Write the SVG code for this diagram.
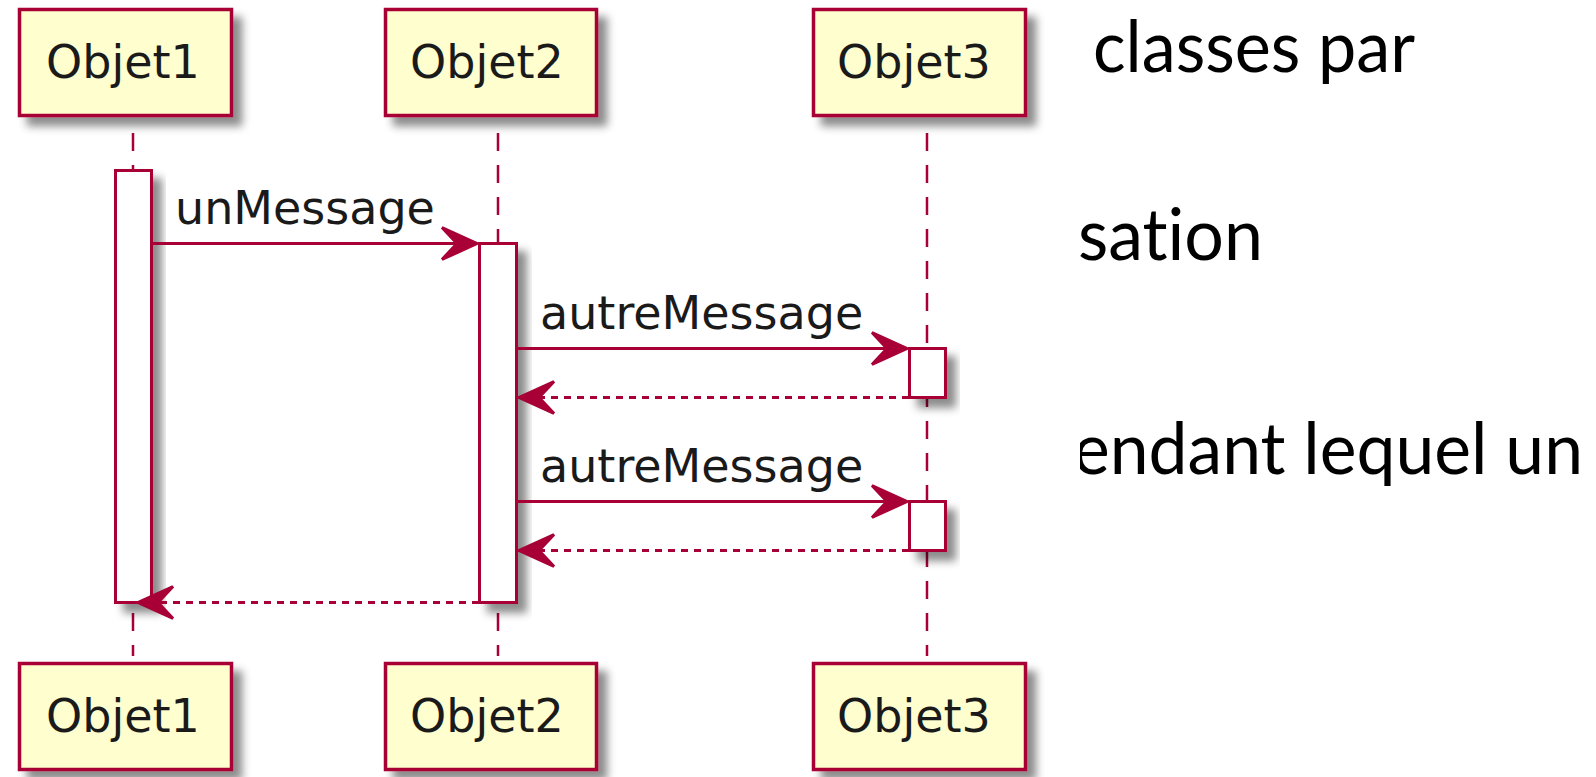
<svg xmlns="http://www.w3.org/2000/svg" width="1596" height="777" viewBox="0 0 1596 777">
  <defs>
    <style>
      .participant rect { fill: #FEFECE; stroke: #A80036; stroke-width: 3.5; filter: url(#shadow); }
      .participant text { font-family: "DejaVu Sans", Verdana, sans-serif; font-size: 46px; fill: #1a1a1a; }
      .lifeline { stroke: #A80036; stroke-width: 2.5; stroke-dasharray: 18 14; fill: none; }
      .activation { fill: #FFFFFF; stroke: #A80036; stroke-width: 3; filter: url(#shadow); }
      .msg { stroke: #A80036; stroke-width: 3; fill: none; marker-end: url(#arrow); }
      .reply { stroke-dasharray: 7 6; }
      .label { font-family: "DejaVu Sans", Verdana, sans-serif; font-size: 46px; fill: #1a1a1a; }
      .slide { font-family: Lato, "Open Sans", sans-serif; font-size: 71px; fill: #000; font-variant-ligatures: none; font-feature-settings: "liga" 0, "clig" 0; }
    </style>
    <filter id="shadow" x="-20%" y="-20%" width="160%" height="160%">
      <feDropShadow dx="9" dy="9" stdDeviation="4" flood-color="#000" flood-opacity="0.45"/>
    </filter>
    <marker id="arrow" markerUnits="userSpaceOnUse" markerWidth="44" markerHeight="38" refX="35" refY="16" orient="auto" overflow="visible">
      <path d="M0,0 L35,16 L0,32 L15,16 Z" fill="#A80036" stroke="#A80036" stroke-width="3" stroke-dasharray="none" stroke-linejoin="miter"/>
    </marker>
    <clipPath id="slideClip">
      <rect x="1080" y="0" width="516" height="777"/>
    </clipPath>
  </defs>

  <rect width="1596" height="777" fill="#FFFFFF"/>

  <!-- lifelines -->
  <g id="lifelines">
    <line class="lifeline" x1="133" y1="133" x2="133" y2="656"/>
    <line class="lifeline" x1="498" y1="133" x2="498" y2="656"/>
    <line class="lifeline" x1="927" y1="133" x2="927" y2="656"/>
  </g>

  <!-- participants (top) -->
  <g id="objet1-top" class="participant">
    <rect x="19.5" y="9.5" width="212" height="106"/>
    <text x="46" y="78">Objet1</text>
  </g>
  <g id="objet2-top" class="participant">
    <rect x="385.5" y="9.5" width="211" height="106"/>
    <text x="410" y="78">Objet2</text>
  </g>
  <g id="objet3-top" class="participant">
    <rect x="813.5" y="9.5" width="212" height="106"/>
    <text x="837" y="78">Objet3</text>
  </g>

  <!-- participants (bottom) -->
  <g id="objet1-bottom" class="participant">
    <rect x="19.5" y="663.5" width="212" height="106"/>
    <text x="46" y="732">Objet1</text>
  </g>
  <g id="objet2-bottom" class="participant">
    <rect x="385.5" y="663.5" width="211" height="106"/>
    <text x="410" y="732">Objet2</text>
  </g>
  <g id="objet3-bottom" class="participant">
    <rect x="813.5" y="663.5" width="212" height="106"/>
    <text x="837" y="732">Objet3</text>
  </g>

  <!-- activation bars -->
  <g id="activations">
    <rect class="activation" x="115.5" y="170.5" width="36" height="432"/>
    <rect class="activation" x="479.5" y="243.5" width="37" height="359"/>
    <rect class="activation" x="909.5" y="348.5" width="36" height="49"/>
    <rect class="activation" x="909.5" y="501.5" width="36" height="49"/>
  </g>

  <!-- messages -->
  <g id="connectors">
    <line class="msg" x1="152" y1="243.5" x2="477" y2="243.5"/>
    <line class="msg" x1="517" y1="348.5" x2="907" y2="348.5"/>
    <line class="msg reply" x1="909" y1="397.5" x2="519" y2="397.5"/>
    <line class="msg" x1="517" y1="501.5" x2="907" y2="501.5"/>
    <line class="msg reply" x1="909" y1="550.5" x2="519" y2="550.5"/>
    <line class="msg reply" x1="479" y1="602.5" x2="138" y2="602.5"/>
  </g>

  <!-- message labels -->
  <g id="labels">
    <text class="label" x="175" y="224">unMessage</text>
    <text class="label" x="540" y="329">autreMessage</text>
    <text class="label" x="540" y="482">autreMessage</text>
  </g>

  <!-- slide text on the right -->
  <g id="slide-text" clip-path="url(#slideClip)">
    <text class="slide" x="1093" y="72" textLength="322" lengthAdjust="spacingAndGlyphs">classes par</text>
    <text class="slide" x="1078" y="260" textLength="185" lengthAdjust="spacingAndGlyphs">sation</text>
    <text class="slide" x="1073" y="474" textLength="510" lengthAdjust="spacingAndGlyphs">endant lequel un</text>
  </g>
</svg>
